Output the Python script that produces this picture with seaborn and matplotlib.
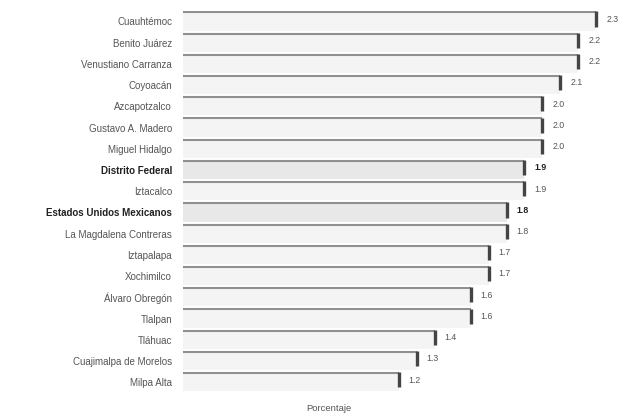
import matplotlib
matplotlib.use("Agg")
import matplotlib.pyplot as plt
import seaborn as sns
import pandas as pd

# datos
delegaciones = [
    "Cuauhtémoc", "Benito Juárez", "Venustiano Carranza", "Coyoacán",
    "Azcapotzalco", "Gustavo A. Madero", "Miguel Hidalgo", "Distrito Federal",
    "Iztacalco", "Estados Unidos Mexicanos", "La Magdalena Contreras",
    "Iztapalapa", "Xochimilco", "Álvaro Obregón", "Tlalpan", "Tláhuac",
    "Cuajimalpa de Morelos", "Milpa Alta",
]
porcentaje = [2.3, 2.2, 2.2, 2.1, 2.0, 2.0, 2.0, 1.9, 1.9, 1.8, 1.8,
              1.7, 1.7, 1.6, 1.6, 1.4, 1.3, 1.2]
resaltados = ["Distrito Federal", "Estados Unidos Mexicanos"]

df = pd.DataFrame({"delegacion": delegaciones, "porcentaje": porcentaje})

sns.set_style("white")
plt.rcParams["font.family"] = ["Liberation Sans", "DejaVu Sans"]

fig = plt.figure(figsize=(6.43, 4.17), dpi=100)
ax = fig.add_axes([0.285, 0.058, 0.715, 0.916])

palette = {d: ("#e8e8e8" if d in resaltados else "#f4f4f4") for d in delegaciones}
sns.barplot(data=df, x="porcentaje", y="delegacion", hue="delegacion",
            palette=palette, legend=False, width=0.86, linewidth=0,
            saturation=1, ax=ax)

# borde superior gris y cierre derecho oscuro de cada barra
for p, v in zip(ax.patches, porcentaje):
    x0, y0 = p.get_x(), p.get_y()
    w, h = p.get_width(), p.get_height()
    ax.plot([x0, x0 + w], [y0, y0], color="#909090", lw=1.5,
            solid_capstyle="butt")
    ax.plot([x0 + w, x0 + w], [y0 - h * 0.05, y0 + h * 0.78], color="#444444",
            lw=2.4, solid_capstyle="butt")
    bold = p.get_facecolor()[0] < 0.93
    ax.text(x0 + w + 0.055, y0 + h * 0.38, f"{v:.1f}", fontsize=6.3,
            va="center", ha="left",
            color="#222222" if bold else "#555555",
            fontweight="bold" if bold else "normal")

ax.set_xlim(0, 2.56)
ax.set_ylim(17.5, -0.5)
ax.set_xticks([])
ax.tick_params(axis="y", length=0, pad=8)
for lab in ax.get_yticklabels():
    lab.set_fontsize(7)
    if lab.get_text() in resaltados:
        lab.set_fontweight("bold")
        lab.set_color("#222222")
    else:
        lab.set_color("#555555")
for s in ax.spines.values():
    s.set_visible(False)

ax.set_ylabel("")
ax.set_xlabel("Porcentaje", fontsize=6.8, color="#555555")
ax.xaxis.set_label_coords(0.317, -0.03)

fig.savefig("out.png", dpi=100, facecolor="white")
